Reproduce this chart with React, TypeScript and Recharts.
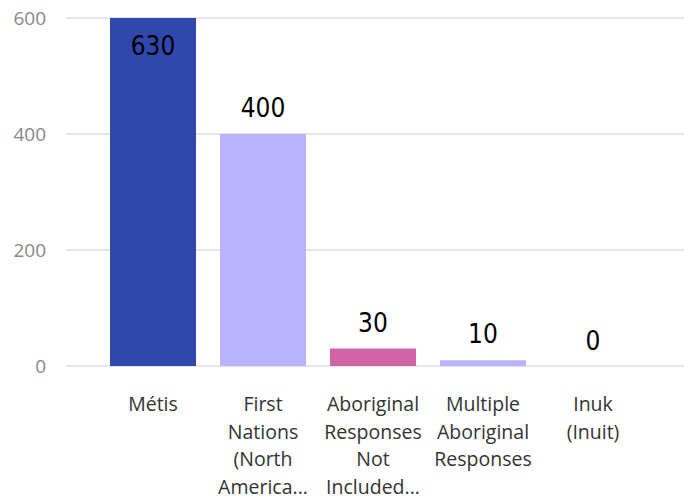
import { Bar, BarChart, CartesianGrid, Cell, LabelList, XAxis, YAxis } from "recharts";

const categories = [
  "Métis",
  "First Nations (North American Indian)",
  "Aboriginal Responses Not Included Elsewhere",
  "Multiple Aboriginal Responses",
  "Inuk (Inuit)",
];
const tickLines = [
  ["Métis"],
  ["First", "Nations", "(North", "America..."],
  ["Aboriginal", "Responses", "Not", "Included..."],
  ["Multiple", "Aboriginal", "Responses"],
  ["Inuk", "(Inuit)"],
];
const counts = [630, 400, 30, 10, 0];
const colors = ["#3048ad", "#b8b3fc", "#d163a7", "#b8b3fc", "#b8b3fc"];
const yTicks = [0, 200, 400, 600];
const Y_MAX = 600;

const data = categories.map((name, i) => ({ name, count: counts[i] }));

function CategoryTick(props: any) {
  const { x, y, index } = props;
  const lines = tickLines[index] ?? [];
  return (
    <text
      x={x}
      y={y}
      textAnchor="middle"
      fill="#333"
      fontSize={19.5}
      fontFamily="'Open Sans', sans-serif"
    >
      {lines.map((line, i) => (
        <tspan key={i} x={x} dy={i === 0 ? 43 : 27.5}>
          {line}
        </tspan>
      ))}
    </text>
  );
}

function ValueLabel(props: any) {
  const { x, y, width, height, value } = props;
  let cy = y - 26;
  if (value > Y_MAX && value > 0) {
    const top = y + height - (Y_MAX * height) / value;
    cy = top + 28;
  }
  if (value === 0) cy = y + height - 25;
  return (
    <text
      x={x + width / 2}
      y={cy}
      textAnchor="middle"
      dominantBaseline="central"
      fill="#000"
      fontSize={26}
      fontFamily="'DejaVu Sans Condensed', 'DejaVu Sans', sans-serif"
    >
      {value}
    </text>
  );
}

export default function App() {
  return (
    <div style={{ position: "absolute", left: 0, top: 0, background: "#fff" }}>
      <BarChart
        width={684}
        height={498}
        data={data}
        margin={{ top: 18, right: 0, bottom: 0, left: 0 }}
        barSize={86}
      >
        <CartesianGrid vertical={false} stroke="#e6e6e6" strokeWidth={2} />
        <XAxis
          dataKey="name"
          interval={0}
          height={132}
          axisLine={false}
          tickLine={false}
          tickSize={0}
          padding={{ left: 32, right: 36 }}
          tick={<CategoryTick />}
        />
        <YAxis
          width={66}
          domain={[0, Y_MAX]}
          ticks={yTicks}
          allowDataOverflow
          axisLine={false}
          tickLine={false}
          tickSize={0}
          tickMargin={20}
          tick={{ fill: "#888", fontSize: 19, fontFamily: "'Open Sans', sans-serif" }}
        />
        <Bar dataKey="count" minPointSize={1} isAnimationActive={false}>
          {data.map((d, i) => (
            <Cell key={i} fill={d.count > 0 ? colors[i] : "transparent"} />
          ))}
          <LabelList dataKey="count" content={<ValueLabel />} />
        </Bar>
      </BarChart>
    </div>
  );
}
